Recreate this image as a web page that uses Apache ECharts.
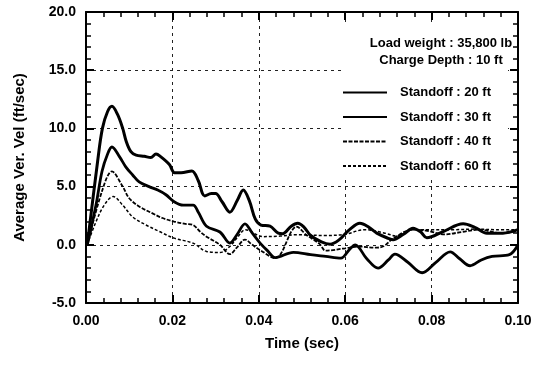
<!DOCTYPE html>
<html>
<head>
<meta charset="utf-8">
<script src="https://cdn.jsdelivr.net/npm/echarts@6/dist/echarts.min.js"></script>
<style>html,body{margin:0;padding:0;background:#fff;}#c{width:545px;height:368px;}</style>
</head>
<body>
<div id="c"></div>
<script>
const seriesNames = ['Standoff : 20 ft', 'Standoff : 30 ft', 'Standoff : 40 ft', 'Standoff : 60 ft'];
const noteLines = ['Load weight : 35,800 lb', 'Charge Depth : 10 ft'];
const xTitle = 'Time (sec)';
const yTitle = 'Average Ver. Vel (ft/sec)';

const time20 = [0.0003,0.0027,0.0038,0.0050,0.0060,0.0073,0.0085,0.0093,0.0104,0.0116,0.0135,0.0150,0.0162,0.0172,0.0193,0.0205,0.0220,0.0245,0.0260,0.0275,0.0290,0.0300,0.0315,0.0333,0.0350,0.0364,0.0378,0.0392,0.0405,0.0426,0.0445,0.0455,0.0475,0.0490,0.0505,0.0520,0.0545,0.0565,0.0585,0.0610,0.0634,0.0655,0.0673,0.0700,0.0711,0.0735,0.0757,0.0775,0.0789,0.0827,0.0873,0.0900,0.0928,0.0965,0.1000];
const vel20  = [0,7.2,10.0,11.45,11.9,11.2,10.0,8.9,8.0,7.7,7.6,7.5,7.8,7.6,6.9,6.2,6.2,6.35,5.5,4.2,4.4,4.4,3.7,2.8,3.8,4.7,3.8,2.2,1.7,1.6,1.0,0.95,1.6,1.85,1.5,0.8,0.25,0.05,0.4,1.3,1.85,1.5,1.0,0.55,0.43,0.9,1.43,1.1,0.6,1.14,1.8,1.5,1.0,1.0,1.3];

const time30 = [0.0003,0.0023,0.0037,0.0050,0.0060,0.0077,0.0092,0.0108,0.0123,0.0146,0.0166,0.0185,0.0204,0.0225,0.0248,0.0260,0.0279,0.0310,0.0333,0.0350,0.0368,0.0385,0.0403,0.0420,0.0438,0.0480,0.0520,0.0555,0.0590,0.0610,0.0623,0.0650,0.0676,0.0700,0.0715,0.0745,0.0778,0.0810,0.0843,0.0865,0.0889,0.0915,0.0940,0.0980,0.1000];
const vel30  = [0,3.4,6.3,7.8,8.4,7.6,6.7,6.0,5.4,5.0,4.7,4.3,3.7,3.4,3.4,2.8,1.6,1.1,0.15,0.9,1.8,1.0,0.15,-0.5,-1.1,-0.65,-0.85,-1.0,-1.15,-0.4,0.0,-1.2,-2.0,-1.3,-0.8,-1.5,-2.4,-1.5,-0.6,-1.2,-1.8,-1.3,-1.0,-0.85,0.0];

const time40 = [0.0003,0.0037,0.0060,0.0085,0.0100,0.0123,0.0154,0.0177,0.0204,0.0230,0.0248,0.0265,0.0279,0.0310,0.0333,0.0350,0.0368,0.0385,0.0403,0.0438,0.0488,0.0510,0.0540,0.0555,0.0600,0.0630,0.0670,0.0690,0.0711,0.0757,0.0790,0.0830,0.0870,0.0910,0.0960,0.1000];
const vel40  = [0,4.6,6.3,5.0,4.0,3.3,2.7,2.3,2.0,1.8,1.7,1.1,0.7,0.0,-0.8,-0.2,0.45,0.0,-0.45,-1.15,1.55,0.85,0.1,-0.5,-0.3,-0.15,-0.25,-0.1,0.55,1.3,1.2,0.9,1.1,1.3,1.0,1.2];

const time60 = [0.0003,0.0020,0.0042,0.0063,0.0085,0.0108,0.0139,0.0170,0.0204,0.0248,0.0279,0.0310,0.0333,0.0350,0.0369,0.0410,0.0449,0.0488,0.0555,0.0600,0.0645,0.0692,0.0719,0.0757,0.0800,0.0850,0.0900,0.0950,0.1000];
const vel60  = [0,1.7,3.4,4.15,3.4,2.4,1.7,1.14,0.57,0.14,-0.57,-0.66,-0.14,0.6,1.29,0.7,0.75,0.86,0.8,0.9,1.3,1.0,0.75,1.3,1.3,1.3,1.35,1.3,1.3];

const xTicks = {min: 0, max: 0.1, interval: 0.02};
const yTicks = {min: -5, max: 20, interval: 5};

function zip(t, v) { return t.map((x, i) => [x, v[i]]); }

const FONT = 'Liberation Sans';
const chart = echarts.init(document.getElementById('c'), null, {renderer: 'canvas'});

const baseAxis = {
  axisLine: {show: true, onZero: false, lineStyle: {color: '#000', width: 2}},
  axisTick: {show: true, inside: true, length: 8, lineStyle: {color: '#000', width: 2}},
  minorTick: {show: true, splitNumber: 5, length: 5, lineStyle: {color: '#000', width: 1.5}},
};

const styles = [
  {width: 3, type: 'solid'},
  {width: 2.8, type: 'solid'},
  {width: 1.8, type: [4, 1.5]},
  {width: 1.5, type: [3, 2]}
];
const datasets = [zip(time20, vel20), zip(time30, vel30), zip(time40, vel40), zip(time60, vel60)];

chart.setOption({
  animation: false,
  backgroundColor: '#fff',
  textStyle: {fontFamily: FONT},
  grid: {left: 86, right: 27, top: 12, bottom: 65, containLabel: false},
  xAxis: [
    Object.assign({}, baseAxis, {
      type: 'value', min: xTicks.min, max: xTicks.max, interval: xTicks.interval,
      position: 'bottom',
      name: xTitle, nameLocation: 'middle', nameGap: 33,
      nameTextStyle: {fontFamily: FONT, fontWeight: 'bold', fontSize: 15, color: '#000'},
      axisLabel: {formatter: v => v.toFixed(2), fontFamily: FONT, fontWeight: 'bold', fontSize: 14, color: '#000', margin: 11},
      splitLine: {show: true, lineStyle: {color: '#222', width: 1, type: [3, 4]}}
    }),
    Object.assign({}, baseAxis, {
      type: 'value', min: xTicks.min, max: xTicks.max, interval: xTicks.interval,
      position: 'top', axisLabel: {show: false}, splitLine: {show: false}
    })
  ],
  yAxis: [
    Object.assign({}, baseAxis, {
      type: 'value', min: yTicks.min, max: yTicks.max, interval: yTicks.interval,
      position: 'left',
      name: yTitle, nameLocation: 'middle', nameGap: 59, nameRotate: 90,
      nameTextStyle: {fontFamily: FONT, fontWeight: 'bold', fontSize: 15, color: '#000'},
      axisLabel: {formatter: v => v.toFixed(1), fontFamily: FONT, fontWeight: 'bold', fontSize: 14, color: '#000', margin: 10},
      splitLine: {show: true, lineStyle: {color: '#222', width: 1, type: [3, 4]}}
    }),
    Object.assign({}, baseAxis, {
      type: 'value', min: yTicks.min, max: yTicks.max, interval: yTicks.interval,
      position: 'right', axisLabel: {show: false}, splitLine: {show: false}
    })
  ],
  legend: {
    orient: 'vertical', left: 337, top: 81, itemGap: 11.5, itemWidth: 44, itemHeight: 16,
    z: 20,
    data: seriesNames,
    itemStyle: {opacity: 0},
    textStyle: {fontFamily: FONT, fontWeight: 'bold', fontSize: 13, color: '#000', padding: [0, 0, 0, 8]}
  },
  graphic: [
    {type: 'rect', z: 10, shape: {x: 342, y: 26, width: 166, height: 152}, style: {fill: '#fff'}},
    {type: 'text', z: 20, x: 441, y: 43, style: {text: noteLines[0], font: 'bold 13px "Liberation Sans"', fill: '#000', align: 'center', verticalAlign: 'middle'}},
    {type: 'text', z: 20, x: 441, y: 60, style: {text: noteLines[1], font: 'bold 13px "Liberation Sans"', fill: '#000', align: 'center', verticalAlign: 'middle'}}
  ],
  series: seriesNames.map((name, i) => ({
    name: name, type: 'line', data: datasets[i], smooth: 0.35, symbol: 'none', showSymbol: false,
    lineStyle: {color: '#000', width: styles[i].width, type: styles[i].type},
    itemStyle: {color: '#000'},
    z: 3
  }))
});
</script>
</body>
</html>
